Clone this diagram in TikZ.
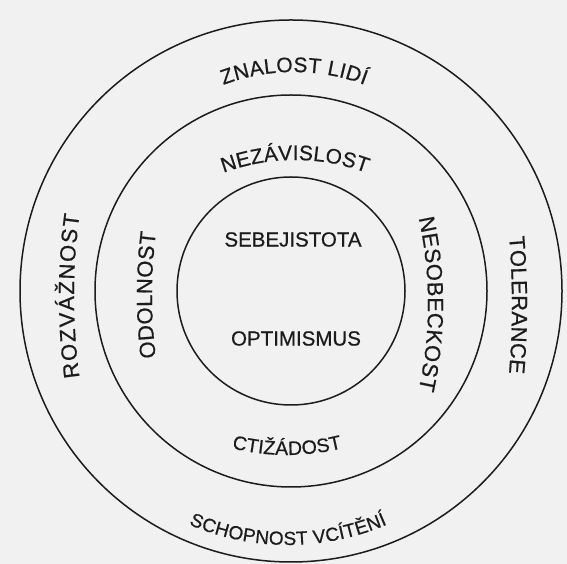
\documentclass[tikz,border=0pt]{standalone}
\usepackage{fontspec}
\usetikzlibrary{decorations.text}
\newfontfamily\lblfam[FakeBold=0.6]{Liberation Sans}
\newcommand\lblsize[1]{\fontsize{#1}{1.2\dimexpr#1pt\relax}\selectfont}
\definecolor{paper}{RGB}{241,241,241}
\definecolor{ink}{RGB}{28,28,28}
\begin{document}
\begin{tikzpicture}[x=1pt,y=1pt,
  ring/.style={circle, draw=ink, line width=1.5pt, inner sep=0pt},
  curved/.style n args={2}{decorate, decoration={text along path,
      text align={fit to path},
      text={|\lblfam\lblsize{#1}\color{ink}|#2}}},
  plain/.style={font=\lblfam\lblsize{20.5}, text=ink, inner sep=0pt}]
  \fill[paper] (0,0) rectangle (567,564);
  \useasboundingbox (0,0) rectangle (567,564);

  % three concentric rings
  \coordinate (c) at (291,273);
  \node[ring, minimum size=228pt] (inner)  at (c) {};
  \node[ring, minimum size=392pt] (middle) at (c) {};
  \node[ring, minimum size=542pt] (outer)  at (c) {};

  % centre words
  \node[plain] (sebe) at (293,324.5) {SEBEJISTOTA};
  \node[plain] (opti) at (296,225.5) {OPTIMISMUS};

  % centres of the curved baselines
  \coordinate (znc) at (294,292);
  \coordinate (nec) at (295,199);
  \coordinate (ctc) at (287,339);
  \coordinate (scc) at (288,269);
  \coordinate (roc) at (674,268);
  \coordinate (odc) at (652,269);
  \coordinate (nsc) at (28,260);
  \coordinate (toc) at (-288,259);

  % top words
  \path[curved={21}{ZNALOST LIDÍ}]
    ([shift={(110.7:200pt)}]znc) arc[start angle=110.7, end angle=69.3, radius=200pt];
  \path[curved={21}{NEZÁVISLOST}]
    ([shift={(110.4:205pt)}]nec) arc[start angle=110.4, end angle=69.6, radius=205pt];

  % bottom words
  \path[curved={19.5}{CTIŽÁDOST}]
    ([shift={(256.1:230pt)}]ctc) arc[start angle=256.1, end angle=283.9, radius=230pt];
  \path[curved={19}{SCHOPNOST VCÍTĚNÍ}]
    ([shift={(246.6:250pt)}]scc) arc[start angle=246.6, end angle=293.4, radius=250pt];

  % left words, reading upwards
  \path[curved={22}{ROZVÁŽNOST}]
    ([shift={(187.8:600pt)}]roc) arc[start angle=187.8, end angle=172.2, radius=600pt];
  \path[curved={22}{ODOLNOST}]
    ([shift={(187.2:500pt)}]odc) arc[start angle=187.2, end angle=172.8, radius=500pt];

  % right words, reading downwards
  \path[curved={22}{NESOBECKOST}]
    ([shift={(12.4:400pt)}]nsc) arc[start angle=12.4, end angle=-12.4, radius=400pt];
  \path[curved={22}{TOLERANCE}]
    ([shift={(4.9:800pt)}]toc) arc[start angle=4.9, end angle=-4.9, radius=800pt];
\end{tikzpicture}
\end{document}
